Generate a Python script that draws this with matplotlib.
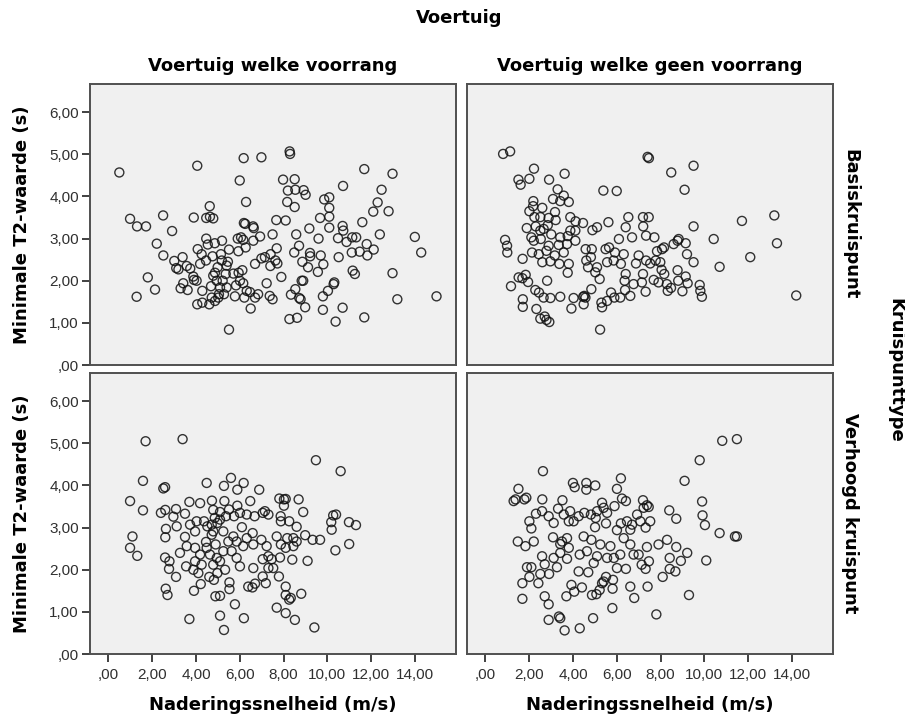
import numpy as np
import matplotlib
matplotlib.use('Agg')
import matplotlib.pyplot as plt
from matplotlib.ticker import FuncFormatter

plt.rcParams['font.family'] = ['Liberation Sans', 'DejaVu Sans']

col_titles = ['Voertuig welke voorrang', 'Voertuig welke geen voorrang']
row_titles = ['Basiskruispunt', 'Verhoogd kruispunt']
x_ticks = [0, 2, 4, 6, 8, 10, 12, 14]
y_ticks = [0, 1, 2, 3, 4, 5, 6]

# Basiskruispunt / voorrang
tl_x = [0.50, 4.06, 6.18, 6.99, 8.28, 8.30, 11.69, 12.98, 6.00, 7.98, 8.51, 10.72, 8.20, 8.54, 8.92, 9.01,
        12.48, 6.29, 8.17, 8.51, 4.63, 9.86, 10.09, 10.09, 12.30, 12.10, 12.80, 0.99, 1.31, 1.72, 2.50, 3.90,
        4.47, 4.79, 4.64, 7.67, 8.10, 9.67, 10.09, 11.60, 2.91, 6.19, 6.25, 6.61, 6.64, 9.18, 10.09, 10.70,
        10.73, 12.40, 14.00, 14.29, 2.21, 2.51, 3.01, 3.10, 3.39, 3.20, 3.58, 3.74, 4.08, 4.26, 4.47, 4.54,
        4.86, 5.19, 4.46, 4.76, 5.14, 5.46, 5.91, 6.06, 6.16, 6.27, 6.62, 6.93, 5.94, 5.51, 7.50, 7.69,
        7.63, 7.72, 7.41, 6.99, 6.70, 7.40, 8.58, 8.71, 8.49, 8.86, 9.21, 9.22, 9.12, 9.60, 9.70, 9.82,
        9.57, 10.49, 10.52, 10.88, 11.14, 11.32, 11.12, 11.48, 11.80, 11.83, 12.12, 11.16, 11.26, 12.98, 13.20, 14.99,
        1.80, 2.13, 1.29, 3.30, 3.42, 3.62, 3.91, 3.88, 4.29, 4.06, 4.29, 4.61, 4.72, 4.69, 4.87, 4.95,
        5.10, 5.05, 5.22, 5.28, 5.40, 5.71, 5.95, 6.12, 5.83, 6.16, 5.78, 6.21, 6.47, 6.70, 6.84, 6.50,
        5.51, 7.23, 7.37, 7.50, 7.90, 8.34, 8.54, 8.72, 8.78, 8.90, 8.99, 8.27, 8.62, 9.80, 10.03, 10.29,
        10.32, 9.80, 10.70, 10.38, 11.69, 5.18, 4.99, 5.40, 4.19, 5.36, 4.79, 6.01, 6.32, 7.15, 8.83, 4.03,
        5.02, 4.87]
tl_y = [4.57, 4.73, 4.91, 4.93, 5.07, 5.01, 4.65, 4.54, 4.38, 4.40, 4.41, 4.25, 4.14, 4.16, 4.15, 4.04,
        4.16, 3.87, 3.87, 3.75, 3.77, 3.93, 3.98, 3.73, 3.86, 3.64, 3.65, 3.47, 3.29, 3.29, 3.55, 3.50,
        3.49, 3.48, 3.52, 3.44, 3.43, 3.49, 3.52, 3.39, 3.18, 3.37, 3.35, 3.29, 3.25, 3.24, 3.26, 3.30,
        3.19, 3.10, 3.04, 2.67, 2.88, 2.60, 2.47, 2.30, 2.56, 2.27, 2.35, 2.29, 2.75, 2.63, 3.00, 2.86,
        2.89, 2.95, 2.48, 2.58, 2.63, 2.45, 3.00, 3.03, 2.97, 2.79, 2.95, 3.05, 2.70, 2.74, 3.10, 2.77,
        2.48, 2.41, 2.63, 2.53, 2.40, 2.35, 3.10, 2.83, 2.67, 2.45, 2.66, 2.58, 2.32, 3.00, 2.60, 2.39,
        2.21, 3.01, 2.56, 2.92, 3.03, 3.03, 2.67, 2.69, 2.87, 2.60, 2.74, 2.24, 2.16, 2.18, 1.56, 1.63,
        2.08, 1.79, 1.62, 1.82, 1.94, 1.78, 2.02, 2.10, 1.76, 1.44, 1.48, 1.44, 1.60, 1.87, 2.19, 2.00,
        1.84, 1.68, 2.00, 1.68, 1.84, 2.17, 2.19, 2.25, 1.89, 1.94, 1.63, 1.60, 1.73, 1.60, 1.68, 1.34,
        0.84, 1.94, 1.64, 1.56, 2.09, 1.67, 1.80, 1.59, 1.56, 2.00, 1.37, 1.09, 1.12, 1.63, 1.76, 1.92,
        1.96, 1.31, 1.36, 1.03, 1.13, 2.48, 2.32, 2.36, 2.40, 2.16, 2.12, 2.00, 1.76, 2.56, 2.00, 2.00,
        1.60, 1.52]

# Basiskruispunt / geen voorrang
tr_x = [0.81, 1.13, 2.22, 1.51, 1.61, 2.01, 2.91, 3.62, 7.41, 7.47, 8.49, 9.51, 9.10, 5.39, 6.00, 3.30,
        3.58, 3.81, 3.42, 3.09, 2.19, 2.18, 2.01, 2.60, 2.24, 2.51, 2.89, 3.18, 3.21, 1.89, 2.30, 2.66,
        2.85, 3.88, 4.12, 4.46, 4.89, 5.10, 5.62, 6.53, 7.20, 7.46, 6.41, 7.21, 9.51, 10.43, 11.72, 13.20,
        13.32, 12.10, 10.70, 14.20, 0.90, 0.99, 1.00, 2.51, 2.53, 3.01, 3.42, 3.76, 4.11, 2.89, 3.35, 3.73,
        1.70, 2.13, 2.44, 2.79, 3.17, 3.58, 2.60, 2.97, 3.38, 3.81, 3.76, 4.58, 4.86, 4.61, 4.69, 4.82,
        5.10, 5.02, 5.49, 5.65, 5.92, 6.10, 6.70, 7.34, 7.72, 6.32, 5.56, 5.86, 6.19, 6.88, 7.00, 7.34,
        7.53, 7.78, 7.84, 8.07, 8.16, 8.60, 8.83, 8.78, 9.15, 9.21, 9.51, 7.99, 8.05, 8.17, 8.78, 9.15,
        1.69, 1.84, 1.95, 1.17, 1.52, 2.28, 2.45, 2.66, 2.82, 2.97, 3.42, 1.71, 1.71, 2.33, 2.51, 2.71,
        2.79, 2.92, 3.93, 4.03, 4.47, 4.52, 4.57, 4.49, 4.84, 5.22, 5.30, 5.33, 5.24, 5.56, 5.74, 5.89,
        6.16, 6.36, 6.38, 6.62, 6.77, 7.15, 7.32, 7.91, 8.29, 8.33, 8.48, 9.00, 9.24, 9.79, 9.82, 9.89,
        8.81, 7.69, 7.20, 6.41, 4.11, 3.88, 2.21, 2.10]
tr_y = [5.01, 5.07, 4.66, 4.40, 4.28, 4.42, 4.40, 4.54, 4.94, 4.91, 4.57, 4.73, 4.16, 4.14, 4.13, 4.17,
        4.02, 3.87, 3.89, 3.94, 3.89, 3.77, 3.65, 3.73, 3.51, 3.51, 3.49, 3.63, 3.44, 3.25, 3.29, 3.23,
        3.32, 3.51, 3.41, 3.37, 3.20, 3.27, 3.39, 3.51, 3.51, 3.51, 3.27, 3.29, 3.29, 2.99, 3.42, 3.55,
        2.89, 2.56, 2.33, 1.65, 2.97, 2.83, 2.67, 3.19, 2.99, 3.10, 3.03, 3.06, 3.19, 2.83, 2.85, 2.87,
        2.52, 2.67, 2.63, 2.71, 2.60, 2.67, 2.44, 2.46, 2.40, 2.40, 2.19, 2.75, 2.75, 2.48, 2.32, 2.56,
        2.32, 2.20, 2.75, 2.79, 2.67, 2.99, 3.03, 3.07, 3.03, 2.63, 2.44, 2.48, 2.40, 2.41, 2.60, 2.48,
        2.41, 2.48, 2.70, 2.75, 2.79, 2.87, 2.99, 2.95, 2.89, 2.63, 2.44, 2.44, 2.26, 2.16, 2.25, 2.10,
        2.06, 2.14, 1.97, 1.87, 2.08, 1.78, 1.72, 1.60, 2.00, 1.59, 1.62, 1.56, 1.38, 1.33, 1.10, 1.15,
        1.07, 1.02, 1.34, 1.59, 1.62, 1.64, 1.60, 1.44, 1.80, 2.04, 1.48, 1.37, 0.84, 1.52, 1.72, 1.60,
        1.60, 2.00, 1.78, 1.64, 1.92, 1.96, 1.74, 1.96, 1.92, 1.76, 1.83, 1.75, 1.94, 1.90, 1.76, 1.62,
        2.00, 2.02, 2.16, 2.16, 2.95, 3.19, 2.95, 3.03]

# Verhoogd kruispunt / voorrang
bl_x = [1.70, 3.39, 9.48, 10.61, 1.58, 2.51, 2.59, 4.49, 5.28, 5.60, 6.18, 5.89, 6.89, 0.99, 1.58, 2.40,
        2.60, 3.09, 2.97, 3.50, 3.70, 4.19, 4.73, 5.30, 5.89, 6.48, 4.79, 5.51, 7.81, 8.02, 8.10, 8.02,
        8.69, 8.90, 10.27, 10.40, 10.99, 11.31, 11.00, 10.37, 10.18, 10.20, 9.67, 9.33, 8.99, 8.45, 8.60, 8.26,
        7.88, 7.87, 7.31, 7.05, 6.68, 6.32, 6.01, 5.74, 5.37, 5.10, 4.86, 4.72, 4.98, 4.52, 4.37, 6.10,
        5.25, 3.96, 3.50, 2.63, 2.60, 1.10, 0.99, 1.32, 2.59, 2.79, 2.77, 3.09, 3.27, 3.58, 3.96, 4.19,
        4.49, 4.64, 4.90, 5.10, 5.48, 5.63, 5.86, 6.16, 6.32, 6.59, 6.62, 6.99, 7.23, 7.31, 7.05, 7.53,
        7.84, 7.88, 8.10, 8.40, 9.10, 8.45, 3.55, 3.88, 4.11, 4.61, 4.82, 4.98, 5.33, 6.01, 6.62, 7.05,
        7.19, 6.39, 6.58, 6.70, 7.79, 8.10, 8.10, 8.33, 8.26, 8.81, 7.69, 8.10, 8.52, 9.41, 6.19, 5.78,
        5.10, 5.28, 3.70, 4.89, 5.10, 5.53, 5.53, 3.91, 4.22, 2.62, 2.70, 4.79, 5.71, 4.03, 3.73, 3.12,
        5.86, 5.25, 4.26, 3.96, 4.79, 7.46, 7.31, 4.95, 4.46, 4.72, 5.10, 7.15, 7.69, 8.17, 8.60]
bl_y = [5.05, 5.10, 4.60, 4.34, 4.11, 3.93, 3.96, 4.06, 3.99, 4.18, 4.06, 3.90, 3.90, 3.63, 3.41, 3.35,
        3.42, 3.44, 3.26, 3.33, 3.61, 3.58, 3.64, 3.63, 3.52, 3.63, 3.42, 3.43, 3.69, 3.67, 3.68, 3.52,
        3.67, 3.37, 3.29, 3.31, 3.13, 3.06, 2.61, 2.46, 3.13, 2.95, 2.71, 2.71, 2.82, 2.75, 3.02, 3.15,
        3.15, 3.27, 3.31, 3.35, 3.27, 3.31, 3.35, 3.27, 3.27, 3.19, 3.23, 3.07, 3.11, 3.03, 3.15, 3.01,
        2.91, 2.91, 2.78, 2.97, 2.77, 2.79, 2.52, 2.33, 2.29, 2.20, 2.02, 1.83, 2.40, 2.56, 2.52, 2.36,
        2.52, 2.36, 2.60, 2.20, 2.67, 2.44, 2.28, 2.56, 2.75, 2.87, 2.60, 2.71, 2.56, 2.32, 2.25, 2.04,
        2.29, 2.60, 2.52, 2.24, 2.21, 2.56, 2.08, 2.00, 1.92, 1.83, 1.76, 1.92, 2.00, 2.08, 2.04, 1.84,
        1.68, 1.60, 1.58, 1.67, 1.84, 1.60, 1.40, 1.33, 1.29, 1.43, 1.10, 0.97, 0.81, 0.63, 0.85, 1.18,
        0.91, 0.57, 0.83, 1.37, 1.38, 1.54, 1.70, 1.50, 1.66, 1.55, 1.40, 2.91, 2.79, 3.15, 3.07, 3.03,
        2.67, 2.44, 2.12, 2.20, 2.12, 2.25, 2.04, 2.28, 2.66, 2.83, 3.37, 3.39, 2.79, 2.75, 2.67]

# Verhoogd kruispunt / geen voorrang
br_x = [10.82, 11.49, 9.79, 9.10, 2.63, 6.19, 1.51, 1.29, 1.38, 1.78, 1.87, 2.60, 4.00, 4.08, 4.61, 4.61,
        5.02, 6.01, 6.24, 6.42, 3.52, 5.33, 5.40, 5.90, 7.20, 7.38, 7.46, 8.40, 8.72, 9.90, 9.92, 10.03,
        10.70, 11.40, 11.49, 10.09, 9.30, 7.81, 5.80, 4.92, 4.31, 3.62, 3.36, 2.89, 3.42, 1.69, 2.71, 2.89,
        3.70, 4.06, 3.93, 4.41, 4.87, 5.07, 5.22, 5.33, 5.51, 5.81, 5.83, 6.62, 6.80, 7.41, 8.10, 8.42,
        8.42, 8.93, 9.22, 8.72, 8.30, 7.91, 1.69, 2.01, 1.90, 2.10, 2.42, 2.51, 2.91, 3.27, 3.12, 2.59,
        2.71, 1.48, 1.83, 2.21, 2.01, 2.10, 2.31, 2.89, 3.12, 3.32, 3.58, 3.87, 4.03, 3.09, 3.50, 3.81,
        3.73, 3.42, 4.31, 4.49, 4.52, 4.82, 5.04, 5.01, 4.84, 4.64, 4.95, 4.70, 5.10, 5.25, 5.51, 5.71,
        5.87, 6.01, 6.19, 6.32, 6.16, 6.42, 6.01, 6.62, 6.77, 6.62, 6.93, 7.08, 7.32, 7.53, 7.38, 7.47,
        7.32, 7.14, 7.00, 5.56, 6.47, 5.10, 4.26, 3.81, 8.68, 6.70, 7.23, 2.59, 3.73, 5.56, 4.26, 5.40,
        3.42]
br_y = [5.06, 5.10, 4.60, 4.11, 4.34, 4.17, 3.92, 3.63, 3.67, 3.67, 3.71, 3.67, 4.06, 3.96, 4.06, 3.90,
        4.00, 3.92, 3.69, 3.63, 3.65, 3.59, 3.47, 3.51, 3.65, 3.53, 3.49, 3.41, 3.21, 3.62, 3.29, 3.06,
        2.87, 2.79, 2.79, 2.22, 1.40, 0.94, 1.09, 0.85, 0.61, 0.56, 0.89, 0.81, 0.85, 1.31, 1.37, 1.18,
        1.37, 1.48, 1.64, 1.58, 1.40, 1.42, 1.52, 1.68, 1.83, 1.55, 1.76, 1.60, 1.33, 1.60, 1.83, 2.02,
        2.28, 2.21, 2.40, 2.54, 2.71, 2.60, 1.68, 1.83, 2.06, 2.06, 1.68, 1.90, 1.90, 2.06, 2.28, 2.32,
        2.13, 2.67, 2.56, 2.67, 3.15, 2.98, 3.33, 3.27, 3.11, 3.45, 3.31, 3.39, 3.15, 2.77, 2.67, 2.52,
        2.26, 2.61, 2.36, 2.79, 3.35, 3.31, 3.23, 3.01, 2.71, 2.44, 2.16, 1.94, 2.32, 2.60, 3.10, 2.56,
        2.28, 2.94, 3.10, 2.75, 2.36, 2.02, 2.04, 2.60, 2.36, 2.95, 3.31, 3.15, 3.00, 3.15, 2.54, 2.20,
        2.02, 2.12, 2.36, 3.35, 3.15, 3.39, 3.27, 3.15, 1.96, 3.07, 3.47, 3.39, 2.75, 2.28, 1.96, 1.72,
        2.40]

data = [[(tl_x, tl_y), (tr_x, tr_y)], [(bl_x, bl_y), (br_x, br_y)]]

# labels in a Verdana-like bold, tick labels in an Arial-like regular
bold = dict(family='DejaVu Sans', fontweight='bold', fontsize=13)


def spss_fmt(v, pos=None):
    s = '{:.2f}'.format(v).replace('.', ',')
    if s.startswith('0,'):
        s = s[1:]
    return s


fig = plt.figure(figsize=(9.05, 7.27), dpi=100)
W, H = 905.0, 727.0
lefts = [90, 467]
tops = [84, 373]
pw, ph = 366, 281

for r in range(2):
    for c in range(2):
        ax = fig.add_axes([lefts[c] / W, 1 - (tops[r] + ph) / H, pw / W, ph / H])
        ax.set_facecolor('#f0f0f0')
        xs, ys = data[r][c]
        ax.scatter(xs, ys, s=42, facecolors='none', edgecolors='#111111',
                   linewidths=1.0, alpha=0.85, zorder=3)
        ax.set_xlim(-0.84, 15.88)
        ax.set_ylim(0, 6.67)
        for sp in ax.spines.values():
            sp.set_color('#505050')
            sp.set_linewidth(1.4)
        ax.set_xticks(x_ticks)
        ax.set_yticks(y_ticks)
        ax.xaxis.set_major_formatter(FuncFormatter(spss_fmt))
        ax.yaxis.set_major_formatter(FuncFormatter(spss_fmt))
        ax.tick_params(direction='out', length=6, width=1.2, color='#202020',
                       labelsize=11, labelcolor='#303030', pad=2)
        if r == 0:
            ax.tick_params(axis='x', bottom=False, labelbottom=False)
        else:
            ax.tick_params(axis='x', pad=4)
        if c == 1:
            ax.tick_params(axis='y', left=False, labelleft=False)

        cx = (lefts[c] + pw / 2) / W
        if r == 0:
            fig.text(cx, 1 - 66 / H, col_titles[c], ha='center', va='center', **bold)
        else:
            fig.text(cx, 1 - 705 / H, 'Naderingssnelheid (m/s)', ha='center', va='center', **bold)
        cy = 1 - (tops[r] + ph / 2) / H
        if c == 0:
            fig.text(22 / W, cy, 'Minimale T2-waarde (s)', rotation=90,
                     ha='center', va='center', **bold)
        else:
            fig.text(850 / W, cy, row_titles[r], rotation=-90,
                     ha='center', va='center', **bold)

fig.text(459 / W, 1 - 18 / H, 'Voertuig', ha='center', va='center', **bold)
fig.text(895 / W, 1 - 370 / H, 'Kruispunttype', ha='center', va='center', rotation=-90, **bold)

fig.savefig('out.png', dpi=100)
